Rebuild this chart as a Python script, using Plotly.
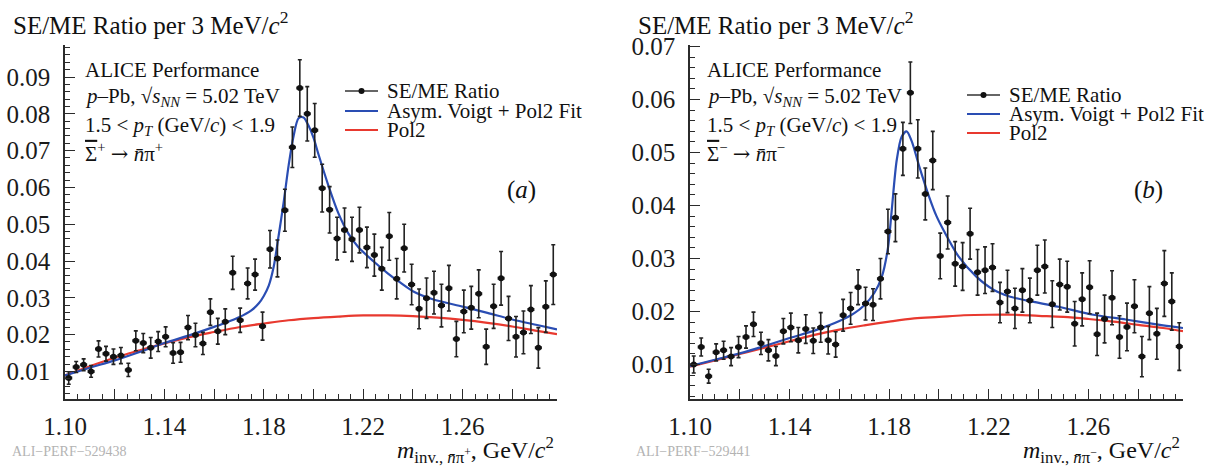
import plotly.graph_objects as go

# ---------------- data ----------------
bin_centers = [1.1015, 1.1045, 1.1075, 1.1105, 1.1135, 1.1165, 1.1195, 1.1225, 1.1255, 1.1285,
               1.1315, 1.1345, 1.1375, 1.1405, 1.1435, 1.1465, 1.1495, 1.1525, 1.1555, 1.1585,
               1.1615, 1.1645, 1.1675, 1.1705, 1.1735, 1.1765, 1.1795, 1.1825, 1.1855, 1.1885,
               1.1915, 1.1945, 1.1975, 1.2005, 1.2035, 1.2065, 1.2095, 1.2125, 1.2155, 1.2185,
               1.2215, 1.2245, 1.2275, 1.2305, 1.2335, 1.2365, 1.2395, 1.2425, 1.2455, 1.2485,
               1.2515, 1.2545, 1.2575, 1.2605, 1.2635, 1.2665, 1.2695, 1.2725, 1.2755, 1.2785,
               1.2815, 1.2845, 1.2875, 1.2905, 1.2935, 1.2965]

ratio_a = [0.0082, 0.0112, 0.0118, 0.0100, 0.0161, 0.0148, 0.0140, 0.0143, 0.0104, 0.0183,
           0.0177, 0.0164, 0.0181, 0.0194, 0.0150, 0.0152, 0.0219, 0.0199, 0.0176, 0.0261,
           0.0209, 0.0235, 0.0368, 0.0239, 0.0339, 0.0363, 0.0223, 0.0432, 0.0407, 0.0538,
           0.0709, 0.0870, 0.0800, 0.0755, 0.0598, 0.0539, 0.0461, 0.0484, 0.0459, 0.0484,
           0.0437, 0.0416, 0.0379, 0.0467, 0.0352, 0.0435, 0.0336, 0.0270, 0.0299, 0.0314,
           0.0279, 0.0326, 0.0188, 0.0263, 0.0273, 0.0311, 0.0167, 0.0277, 0.0353, 0.0244,
           0.0194, 0.0206, 0.0268, 0.0164, 0.0276, 0.0363]
err_a = [0.0017, 0.0015, 0.0016, 0.0016, 0.0022, 0.0020, 0.0021, 0.0022, 0.0018, 0.0027,
         0.0026, 0.0028, 0.0027, 0.0027, 0.0028, 0.0027, 0.0033, 0.0032, 0.0030, 0.0036,
         0.0035, 0.0035, 0.0045, 0.0033, 0.0042, 0.0042, 0.0038, 0.0051, 0.0050, 0.0057,
         0.0055, 0.0077, 0.0074, 0.0073, 0.0065, 0.0063, 0.0058, 0.0060, 0.0060, 0.0062,
         0.0055, 0.0057, 0.0058, 0.0065, 0.0055, 0.0065, 0.0055, 0.0054, 0.0055, 0.0058,
         0.0058, 0.0062, 0.0048, 0.0058, 0.0058, 0.0065, 0.0048, 0.0060, 0.0073, 0.0060,
         0.0055, 0.0058, 0.0065, 0.0055, 0.0070, 0.0081]

ratio_b = [0.0100, 0.0133, 0.0078, 0.0123, 0.0127, 0.0115, 0.0133, 0.0152, 0.0176, 0.0140,
           0.0127, 0.0116, 0.0163, 0.0170, 0.0146, 0.0167, 0.0145, 0.0170, 0.0146, 0.0138,
           0.0193, 0.0206, 0.0246, 0.0215, 0.0213, 0.0262, 0.0351, 0.0377, 0.0507, 0.0613,
           0.0507, 0.0422, 0.0485, 0.0305, 0.0368, 0.0290, 0.0285, 0.0347, 0.0274, 0.0278,
           0.0283, 0.0217, 0.0238, 0.0206, 0.0240, 0.0221, 0.0278, 0.0285, 0.0214, 0.0251,
           0.0247, 0.0177, 0.0223, 0.0246, 0.0157, 0.0186, 0.0226, 0.0152, 0.0171, 0.0210,
           0.0115, 0.0197, 0.0158, 0.0253, 0.0219, 0.0134]
err_b = [0.0016, 0.0017, 0.0013, 0.0016, 0.0017, 0.0017, 0.0020, 0.0021, 0.0023, 0.0021,
         0.0020, 0.0018, 0.0024, 0.0027, 0.0024, 0.0027, 0.0024, 0.0028, 0.0026, 0.0024,
         0.0030, 0.0030, 0.0033, 0.0031, 0.0030, 0.0038, 0.0042, 0.0045, 0.0050, 0.0058,
         0.0055, 0.0049, 0.0055, 0.0043, 0.0050, 0.0042, 0.0045, 0.0048, 0.0043, 0.0044,
         0.0045, 0.0038, 0.0040, 0.0038, 0.0041, 0.0042, 0.0047, 0.0050, 0.0044, 0.0048,
         0.0048, 0.0042, 0.0050, 0.0050, 0.0040, 0.0045, 0.0051, 0.0040, 0.0045, 0.0050,
         0.0038, 0.0050, 0.0048, 0.0062, 0.0054, 0.0045]

fit_x_a = [1.100, 1.110, 1.120, 1.130, 1.140, 1.150, 1.160, 1.165, 1.170, 1.175,
           1.178, 1.180, 1.182, 1.184, 1.186, 1.188, 1.190, 1.192, 1.194, 1.196,
           1.198, 1.200, 1.202, 1.206, 1.210, 1.214, 1.218, 1.224, 1.230, 1.235,
           1.240, 1.248, 1.260, 1.270, 1.280, 1.290, 1.298]
fit_y_a = [0.0089, 0.0110, 0.0130, 0.0153, 0.0177, 0.0198, 0.0221, 0.0233, 0.0247, 0.0266,
           0.0285, 0.0305, 0.0333, 0.0385, 0.0470, 0.0560, 0.0660, 0.0740, 0.0788, 0.0790,
           0.0768, 0.0735, 0.0690, 0.0605, 0.0530, 0.0475, 0.0438, 0.0400, 0.0366, 0.0341,
           0.0318, 0.0296, 0.0276, 0.0259, 0.0241, 0.0226, 0.0214]

fit_x_b = [1.100, 1.110, 1.120, 1.130, 1.140, 1.150, 1.160, 1.166, 1.170, 1.174,
           1.177, 1.1795, 1.181, 1.183, 1.185, 1.187, 1.189, 1.192, 1.196, 1.199,
           1.202, 1.208, 1.215, 1.222, 1.228, 1.235, 1.248, 1.262, 1.275, 1.290, 1.298]
fit_y_b = [0.0097, 0.0109, 0.0121, 0.0135, 0.0150, 0.0164, 0.0182, 0.0197, 0.0212, 0.0235,
           0.0265, 0.0320, 0.0390, 0.0485, 0.0530, 0.0540, 0.0522, 0.0475, 0.0417, 0.0380,
           0.0352, 0.0303, 0.0266, 0.0241, 0.0229, 0.0221, 0.0209, 0.0194, 0.0185, 0.0174, 0.0169]

pol_x = [1.10, 1.11, 1.12, 1.13, 1.14, 1.15, 1.16, 1.17, 1.18, 1.19, 1.20,
         1.21, 1.22, 1.23, 1.24, 1.25, 1.26, 1.27, 1.28, 1.29, 1.298]
pol_y_a = [0.0089, 0.0114, 0.0137, 0.0157, 0.0176, 0.0193, 0.0207, 0.0220, 0.0230, 0.0239, 0.0245,
           0.0249, 0.0252, 0.0252, 0.0250, 0.0246, 0.0240, 0.0232, 0.0222, 0.0210, 0.0201]
pol_y_b = [0.0096, 0.0108, 0.0120, 0.0132, 0.0144, 0.0156, 0.0166, 0.0174, 0.0181, 0.0187, 0.0190,
           0.0193, 0.0194, 0.0194, 0.0192, 0.0190, 0.0186, 0.0181, 0.0175, 0.0169, 0.0163]

x_tickvals = [1.10, 1.12, 1.14, 1.16, 1.18, 1.20, 1.22, 1.24, 1.26, 1.28]
x_ticktext = ["1.10", "", "1.14", "", "1.18", "", "1.22", "", "1.26", ""]

# ---------------- style ----------------
W, H = 1217, 470
SERIF = "Liberation Serif, Times New Roman, serif"
AX = "#2b2b2b"
BLUE = "#2a4db3"
RED = "#e8392f"
PT = "#111111"

def px(x):
    return x / W

def py(y):
    return 1 - y / H

fig = go.Figure()

panels = [
    dict(xa="x", ya="y", ratio=ratio_a, err=err_a, fx=fit_x_a, fy=fit_y_a, pol=pol_y_a),
    dict(xa="x2", ya="y2", ratio=ratio_b, err=err_b, fx=fit_x_b, fy=fit_y_b, pol=pol_y_b),
]
for p in panels:
    fig.add_trace(go.Scatter(
        x=pol_x, y=p["pol"], mode="lines", line=dict(color=RED, width=2.2, shape="spline"),
        xaxis=p["xa"], yaxis=p["ya"], showlegend=False, hoverinfo="skip"))
    fig.add_trace(go.Scatter(
        x=p["fx"], y=p["fy"], mode="lines", line=dict(color=BLUE, width=2.2, shape="spline", smoothing=0.8),
        xaxis=p["xa"], yaxis=p["ya"], showlegend=False, hoverinfo="skip"))
    fig.add_trace(go.Scatter(
        x=bin_centers, y=p["ratio"], mode="markers",
        marker=dict(color=PT, size=6),
        error_y=dict(type="data", array=p["err"], color="#222", thickness=1.6, width=2),
        error_x=dict(type="constant", value=0.0011, color="#222", thickness=1.6, width=1.5),
        xaxis=p["xa"], yaxis=p["ya"], showlegend=False))

def xaxis_cfg(dom, anchor):
    return dict(
        domain=dom, anchor=anchor, range=[1.10, 1.298], automargin=False,
        showline=True, linecolor=AX, linewidth=1.5,
        ticks="inside", ticklen=10, tickwidth=1.3, tickcolor=AX,
        tickmode="array", tickvals=x_tickvals, ticktext=x_ticktext,
        tickfont=dict(family=SERIF, size=25, color="#1a1a1a"),
        ticklabelstandoff=4,
        minor=dict(ticks="inside", ticklen=5, tickwidth=1.1, tickcolor=AX,
                   tickmode="linear", tick0=1.10, dtick=0.005, showgrid=False),
        showgrid=False, zeroline=False, fixedrange=True)

def yaxis_cfg(rng, anchor):
    return dict(
        domain=[py(399), py(45)], anchor=anchor, range=rng, automargin=False,
        showline=True, linecolor=AX, linewidth=1.5,
        ticks="inside", ticklen=10, tickwidth=1.3, tickcolor=AX,
        tickmode="linear", tick0=0, dtick=0.01, tickformat=".2f",
        tickfont=dict(family=SERIF, size=25, color="#1a1a1a"),
        ticklabelstandoff=8,
        minor=dict(ticks="inside", ticklen=5, tickwidth=1.1, tickcolor=AX,
                   tickmode="linear", tick0=0, dtick=0.002, showgrid=False),
        showgrid=False, zeroline=False, fixedrange=True)

fig.update_layout(
    width=W, height=H, margin=dict(l=0, r=0, t=0, b=0, autoexpand=False),
    paper_bgcolor="white", plot_bgcolor="white",
    showlegend=False,
    xaxis=xaxis_cfg([px(65), px(557)], "y"),
    yaxis=yaxis_cfg([0.0025, 0.0987], "x"),
    xaxis2=xaxis_cfg([px(690), px(1183)], "y2"),
    yaxis2=yaxis_cfg([0.0035, 0.0703], "x2"),
)

annotations = []
shapes = []

def text(x, y, s, size, anchor="left", color="#111", yanchor="middle"):
    annotations.append(dict(x=px(x), y=py(y), xref="paper", yref="paper", text=s,
                            showarrow=False, xanchor=anchor, yanchor=yanchor,
                            font=dict(family=SERIF, size=size, color=color)))

SIGBAR = "<span style='text-decoration:overline'>Σ</span>"
ARROW = "<span style='font-family:DejaVu Serif'>→</span>"

sub_labels = [
    dict(info_x=83, sig=SIGBAR + "<sup>+</sup> " + ARROW + " <i>n̄</i>π<sup>+</sup>", tag="(<i>a</i>)",
         tag_x=521, leg_x=345, leg_y=[91, 111, 130],
         xt="<i>m</i><sub>inv., <i>n̄</i>π<sup>+</sup></sub>, GeV/<i>c</i><sup>2</sup>", xt_x=556,
         wm="ALI−PERF−529438", wm_x=10, title_x=11),
    dict(info_x=705, sig=SIGBAR + "<sup>−</sup> " + ARROW + " <i>n̄</i>π<sup>−</sup>", tag="(<i>b</i>)",
         tag_x=1148, leg_x=967, leg_y=[95, 114, 133],
         xt="<i>m</i><sub>inv., <i>n̄</i>π<sup>−</sup></sub>, GeV/<i>c</i><sup>2</sup>", xt_x=1182,
         wm="ALI−PERF−529441", wm_x=634, title_x=636),
]

for s in sub_labels:
    text(s["title_x"], 23, "SE/ME Ratio per 3 MeV/<i>c</i><sup>2</sup>", 25)
    text(s["info_x"], 70, "ALICE Performance", 21)
    text(s["info_x"], 97, "<i>p</i>–Pb, √<i>s</i><sub><i>NN</i></sub> = 5.02 TeV", 21)
    text(s["info_x"], 126, "1.5 &lt; <i>p</i><sub><i>T</i></sub> (GeV/<i>c</i>) &lt; 1.9", 21)
    text(s["info_x"], 152, s["sig"], 21)
    text(s["tag_x"], 190, s["tag"], 25, anchor="center")
    text(s["xt_x"], 450, s["xt"], 24, anchor="right")
    text(s["wm_x"], 451, s["wm"], 14, color="#b3b3b3")
    # legend
    lx0, lx1 = s["leg_x"], s["leg_x"] + 33
    labels = ["SE/ME Ratio", "Asym. Voigt + Pol2 Fit", "Pol2"]
    colors = ["#333333", BLUE, RED]
    for ly, lab, col in zip(s["leg_y"], labels, colors):
        shapes.append(dict(type="line", xref="paper", yref="paper",
                           x0=px(lx0), x1=px(lx1), y0=py(ly), y1=py(ly),
                           line=dict(color=col, width=2 if col != "#333333" else 1.5)))
        text(lx1 + 7, ly, lab, 21)
    cx, cy = (lx0 + lx1) / 2, s["leg_y"][0]
    shapes.append(dict(type="circle", xref="paper", yref="paper",
                       x0=px(cx - 3), x1=px(cx + 3), y0=py(cy + 3), y1=py(cy - 3),
                       fillcolor="#111", line=dict(color="#111", width=0)))

fig.update_layout(annotations=annotations, shapes=shapes)
fig.write_html("out.html", config={"displayModeBar": False},
               post_script="document.body.style.margin='0px';document.body.style.overflow='hidden';")
